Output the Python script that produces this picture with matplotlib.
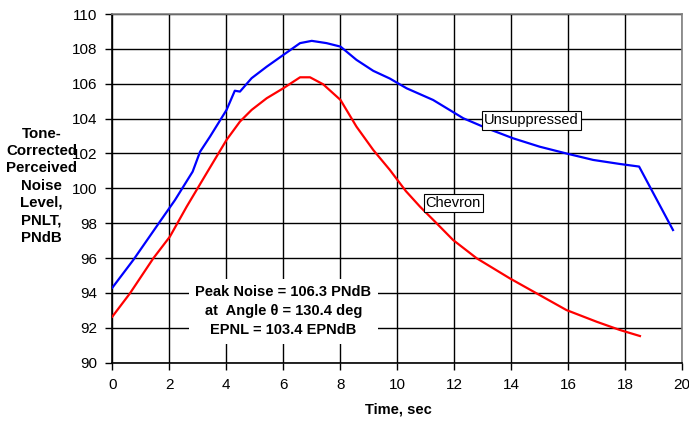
import matplotlib
matplotlib.use("Agg")
import matplotlib.pyplot as plt

plt.rcParams['font.family'] = ['Liberation Sans', 'DejaVu Sans']

unsup_t = [0.0, 0.74, 1.67, 2.2, 2.82, 3.08, 3.43, 4.01, 4.3, 4.48, 4.89, 5.42, 6.0,
           6.59, 7.0, 7.52, 8.01, 8.57, 9.16, 9.74, 10.33, 11.26, 12.32, 13.14,
           14.07, 15.0, 15.94, 16.88, 17.81, 18.49, 19.68]
unsup_v = [94.3, 95.9, 98.09, 99.33, 100.96, 102.1, 102.97, 104.5, 105.6, 105.55,
           106.32, 106.98, 107.65, 108.33, 108.46, 108.33, 108.13, 107.37, 106.74,
           106.3, 105.74, 105.07, 104.02, 103.45, 102.87, 102.39, 102.0, 101.63,
           101.4, 101.25, 97.61]

chev_t = [0.0, 0.62, 1.44, 2.02, 2.61, 3.31, 4.01, 4.48, 4.89, 5.42, 6.0, 6.59,
          6.94, 7.4, 8.01, 8.57, 9.16, 9.74, 10.3, 10.8, 11.26, 11.96, 12.79, 13.95,
          14.89, 15.94, 17.0, 17.81, 18.52]
chev_v = [92.64, 93.98, 95.99, 97.23, 98.95, 100.87, 102.78, 103.83, 104.5, 105.17,
          105.74, 106.37, 106.37, 105.97, 105.07, 103.54, 102.2, 101.06, 99.85,
          98.95, 98.2, 97.04, 95.99, 94.84, 93.98, 93.02, 92.35, 91.88, 91.53]

x_ticks = [0, 2, 4, 6, 8, 10, 12, 14, 16, 18, 20]
y_ticks = [90, 92, 94, 96, 98, 100, 102, 104, 106, 108, 110]

fig = plt.figure(figsize=(6.89, 4.22), dpi=100)
ax = fig.add_axes([0.163, 0.1405, 0.827, 0.8263])

ax.plot(unsup_t, unsup_v, color='#0000ff', lw=1.6, zorder=3)
ax.plot(chev_t, chev_v, color='#ff0000', lw=1.6, zorder=3)

ax.set_xlim(0, 20)
ax.set_ylim(90, 110)
ax.set_xticks(x_ticks)
ax.set_yticks(y_ticks)
ax.tick_params(direction='out', length=5, width=1, labelsize=11, pad=6, colors='black')
ax.grid(True, color='black', lw=1)
ax.set_axisbelow(True)
for s in ['left', 'bottom']:
    ax.spines[s].set_color('black')
    ax.spines[s].set_linewidth(1.2)
for s in ['top', 'right']:
    ax.spines[s].set_color('#808080')
    ax.spines[s].set_linewidth(1.2)

fig.text(398 / 689, 1 - 410 / 422, 'Time, sec', ha='center', va='center',
         fontsize=10.5, fontweight='bold')
fig.text(0.0605, 0.56, 'Tone-\nCorrected\nPerceived\nNoise\nLevel,\nPNLT,\nPNdB',
         ha='center', va='center', fontsize=10.8, fontweight='bold', linespacing=1.3)

box = dict(boxstyle='square,pad=0.15', fc='white', ec='black', lw=0.8)
ax.text(13.05, 103.9, 'Unsuppressed', fontsize=10.5, ha='left', va='center', bbox=box, zorder=5)
ax.text(11.0, 99.16, 'Chevron', fontsize=10.5, ha='left', va='center', bbox=box, zorder=5)

ax.text(6.0, 92.95, 'Peak Noise = 106.3 PNdB\nat  Angle θ = 130.4 deg\nEPNL = 103.4 EPNdB',
        ha='center', va='center', fontsize=10.5, fontweight='bold', linespacing=1.45,
        bbox=dict(boxstyle='square,pad=0.45', fc='white', ec='none'), zorder=4)

fig.savefig('out.png', dpi=100)
